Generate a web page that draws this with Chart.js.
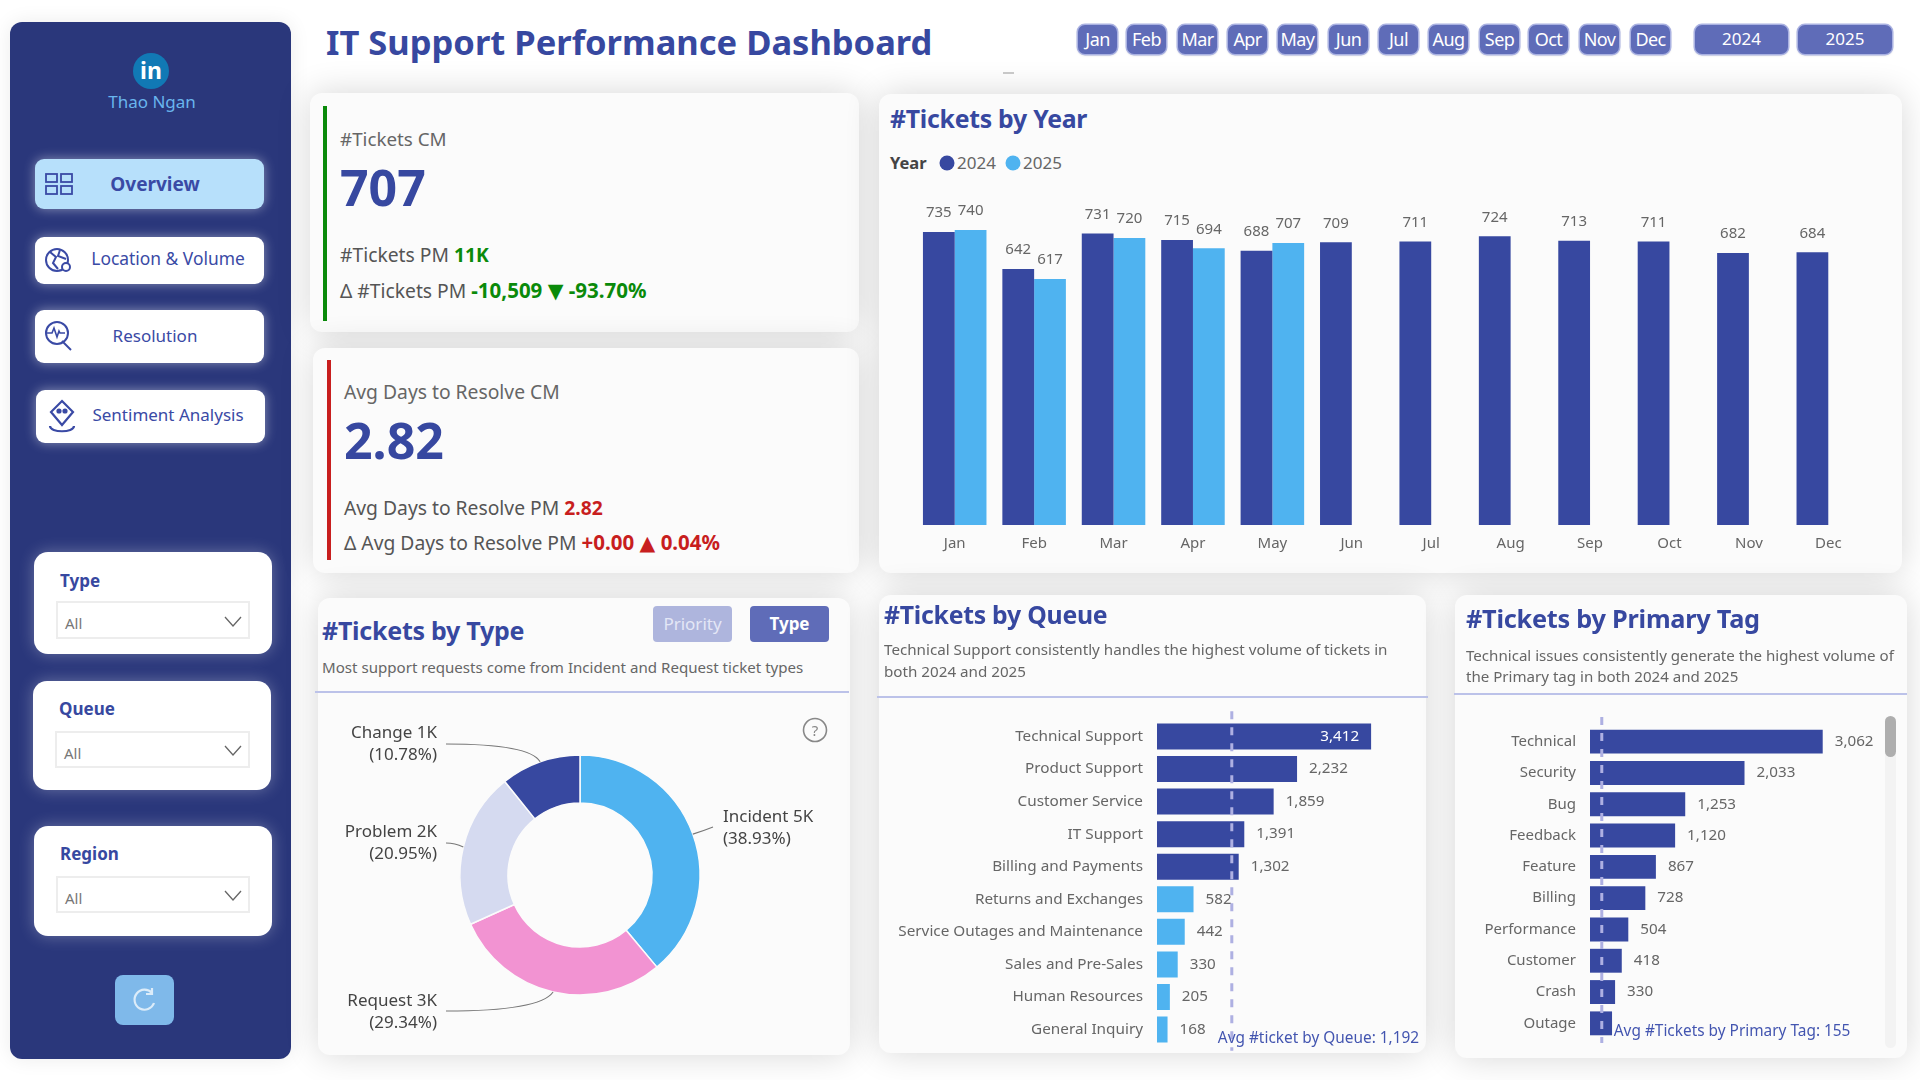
<!DOCTYPE html>
<html>
<head>
<meta charset="utf-8">
<title>IT Support Performance Dashboard</title>
<script src="https://cdn.jsdelivr.net/npm/chart.js@4/dist/chart.umd.min.js"></script>
<style>
html,body{margin:0;padding:0;background:#fff;}
body{position:relative;width:1920px;height:1080px;overflow:hidden;font-family:"Noto Sans",sans-serif;color:#555;}
.box,.t,canvas,svg{position:absolute;}
.t{transform:translateY(calc(-50% - 1.5px));white-space:nowrap;}
.c{transform:translate(-50%,calc(-50% - 1.5px));}
.card{background:#fbfbfb;border-radius:12px;box-shadow:0 0 34px rgba(0,0,0,.16);}
.side{background:#2a377b;border-radius:12px;box-shadow:0 0 20px rgba(0,0,0,.08);}
.nav{background:#fff;border-radius:9px;box-shadow:0 0 12px rgba(255,255,255,.45);}
.navt{color:#3a4aa5;font-size:17px;}
.filter{background:#fff;border-radius:14px;box-shadow:0 0 16px rgba(255,255,255,.3);}
.flabel{color:#3748a0;font-weight:700;font-size:17px;}
.select{background:#fff;border:2px solid #ededed;box-sizing:border-box;}
.all{color:#777;font-size:15px;}
.h{color:#3748a0;font-weight:700;font-size:24.8px;letter-spacing:-.25px;}
.sub{color:#666;font-size:15.1px;}
.line{background:#bcc2e9;height:2px;}
.kpi{font-size:19.3px;color:#555;}
.kpi b.wide{font-size:20.5px;}
.kpih{font-size:18.8px;color:#666;}
.big{color:#3748a0;font-weight:700;font-size:50px;}
.tri{font-family:"DejaVu Sans";font-weight:400;}
.pill{background:#5f6cb8;border-radius:7px;color:#fff;font-size:17px;text-align:center;box-shadow:0 0 0 1.5px #aab2e2,0 1px 3px rgba(0,0,0,.2);box-sizing:border-box;height:29px;line-height:28px;top:25px;overflow:hidden;}
</style>
</head>
<body>

<div class="box side" style="left:10px;top:22px;width:281px;height:1037px"></div>
<svg style="left:133px;top:53px" width="36" height="36"><circle cx="18" cy="18" r="18" fill="#1179b5"/><text x="18" y="26" text-anchor="middle" font-family="Noto Sans" font-weight="700" font-size="23" fill="#fff">in</text></svg>
<div class="t c" style="left:152px;top:103px;color:#69b5ee;font-size:17px">Thao Ngan</div>

<div class="box nav" style="left:35px;top:159px;width:229px;height:50px;background:#b7e0fb"></div>
<svg style="left:45px;top:172px" width="30" height="24" fill="none" stroke="#3a4aa5" stroke-width="1.8"><rect x="1" y="2" width="11" height="8"/><rect x="16" y="2" width="11" height="8"/><rect x="1" y="14" width="11" height="8"/><rect x="16" y="14" width="11" height="8"/></svg>
<div class="t c navt" style="left:155px;top:185px;font-weight:700;font-size:19px">Overview</div>

<div class="box nav" style="left:35px;top:237px;width:229px;height:47px"></div>
<svg style="left:44px;top:246px" width="30" height="30" fill="none" stroke="#3a4aa5" stroke-width="2"><circle cx="13" cy="14" r="11"/><path d="M6 6l6 5-3 6 5 6M16 4l-2 6 8 3" /><circle cx="22" cy="21" r="4" fill="#fff"/></svg>
<div class="t c navt" style="left:168px;top:259px;font-size:17.4px">Location &amp; Volume</div>

<div class="box nav" style="left:35px;top:310px;width:229px;height:53px"></div>
<svg style="left:44px;top:320px" width="32" height="32" fill="none" stroke="#3a4aa5" stroke-width="2"><circle cx="13" cy="13" r="11"/><path d="M18 21l9 9"/><path d="M3 13h5l2-5 3 9 2-6 1 2h5" stroke-width="1.6"/></svg>
<div class="t c navt" style="left:155px;top:337px">Resolution</div>

<div class="box nav" style="left:36px;top:390px;width:229px;height:53px"></div>
<svg style="left:47px;top:399px" width="30" height="36" fill="none" stroke="#3a4aa5" stroke-width="2.2"><path d="M15 2l11 11-11 13L4 13z"/><circle cx="12" cy="12" r="1.5" fill="#3a4aa5"/><circle cx="18" cy="12" r="1.5" fill="#3a4aa5"/><path d="M3 27c0 7 24 7 24 0"/></svg>
<div class="t c navt" style="left:168px;top:416px">Sentiment Analysis</div>

<div class="box filter" style="left:34px;top:552px;width:238px;height:102px"></div>
<div class="t flabel" style="left:60px;top:582px">Type</div>
<div class="box select" style="left:56px;top:601px;width:194px;height:38px"></div>
<div class="t all" style="left:65px;top:624px">All</div>
<svg style="left:224px;top:616px" width="18" height="12" fill="none" stroke="#666" stroke-width="1.3"><path d="M1 1l8 9 8-9"/></svg>

<div class="box filter" style="left:33px;top:681px;width:238px;height:109px"></div>
<div class="t flabel" style="left:59px;top:710px">Queue</div>
<div class="box select" style="left:55px;top:731px;width:195px;height:37px"></div>
<div class="t all" style="left:64px;top:754px">All</div>
<svg style="left:224px;top:745px" width="18" height="12" fill="none" stroke="#666" stroke-width="1.3"><path d="M1 1l8 9 8-9"/></svg>

<div class="box filter" style="left:34px;top:826px;width:238px;height:110px"></div>
<div class="t flabel" style="left:60px;top:855px">Region</div>
<div class="box select" style="left:56px;top:876px;width:194px;height:37px"></div>
<div class="t all" style="left:65px;top:899px">All</div>
<svg style="left:224px;top:890px" width="18" height="12" fill="none" stroke="#666" stroke-width="1.3"><path d="M1 1l8 9 8-9"/></svg>

<div class="box" style="left:115px;top:975px;width:59px;height:50px;background:#7fb9ea;border-radius:8px"></div>
<svg style="left:132px;top:987px" width="26" height="26" fill="none" stroke="#dcecf9" stroke-width="2.2"><path d="M20 6a10 10 0 1 0 2 10"/><path d="M20 1v6h-6"/></svg>

<div class="t" style="left:326px;top:43px;color:#3748a0;font-weight:700;font-size:34.5px" id="title">IT Support Performance Dashboard</div>
<div id="months"></div>
<div class="box pill" style="left:1695px;width:93px">2024</div>
<div class="box pill" style="left:1798px;width:94px">2025</div>
<div class="box" style="left:1003px;top:72px;width:11px;height:2px;background:#ccc"></div>

<div class="box card" style="left:310px;top:93px;width:549px;height:239px"></div>
<div class="box" style="left:323px;top:106px;width:4px;height:215px;background:#0a8a0a"></div>
<div class="t kpih" style="left:340px;top:140px">#Tickets CM</div>
<div class="t big" style="left:340px;top:188px">707</div>
<div class="t kpi" style="left:340px;top:256px">#Tickets PM <b style="color:#0a8a0a">11K</b></div>
<div class="t kpi" style="left:340px;top:291px">Δ #Tickets PM <b class="wide" style="color:#0a8a0a">-10,509 <span class="tri">▼</span> -93.70%</b></div>

<div class="box card" style="left:313px;top:348px;width:546px;height:225px"></div>
<div class="box" style="left:327px;top:360px;width:4px;height:200px;background:#c81e1e"></div>
<div class="t kpih" style="left:344px;top:393px;font-size:19.3px">Avg Days to Resolve CM</div>
<div class="t big" style="left:344px;top:441px">2.82</div>
<div class="t kpi" style="left:344px;top:509px">Avg Days to Resolve PM <b style="color:#c81e1e">2.82</b></div>
<div class="t kpi" style="left:344px;top:543px">Δ Avg Days to Resolve PM <b class="wide" style="color:#c81e1e">+0.00 <span class="tri">▲</span> 0.04%</b></div>

<div class="box card" style="left:879px;top:94px;width:1023px;height:479px"></div>
<div class="t h" style="left:890px;top:119px">#Tickets by Year</div>
<div class="t" style="left:890px;top:164px;font-weight:700;font-size:16.5px;color:#444">Year</div>
<svg style="left:939px;top:155px" width="16" height="16"><circle cx="8" cy="8" r="7.5" fill="#3748a0"/></svg>
<div class="t" style="left:957px;top:164px;font-size:17px;color:#666">2024</div>
<svg style="left:1005px;top:155px" width="16" height="16"><circle cx="8" cy="8" r="7.5" fill="#4fb3f0"/></svg>
<div class="t" style="left:1023px;top:164px;font-size:17px;color:#666">2025</div>
<canvas id="yearChart" width="953" height="375" style="left:915px;top:190px"></canvas>

<div class="box card" style="left:318px;top:598px;width:532px;height:457px"></div>
<div class="t h" style="left:322px;top:631px;font-size:25px">#Tickets by Type</div>
<div class="box" style="left:653px;top:606px;width:79px;height:36px;background:#aeb5dd;border-radius:4px;color:#e4e7f6;font-size:17px;text-align:center;line-height:35px">Priority</div>
<div class="box" style="left:750px;top:606px;width:79px;height:36px;background:#5f6cb8;border-radius:4px;color:#fff;font-size:17px;font-weight:700;text-align:center;line-height:35px">Type</div>
<div class="t sub" style="left:322px;top:668px">Most support requests come from Incident and Request ticket types</div>
<div class="box line" style="left:315px;top:691px;width:534px"></div>
<canvas id="typeChart" width="500" height="350" style="left:330px;top:700px"></canvas>
<svg style="left:802px;top:717px" width="26" height="26" fill="none" stroke="#888" stroke-width="1.6"><circle cx="13" cy="13" r="11.5"/><text x="13" y="18.5" text-anchor="middle" font-family="Noto Sans" font-size="15" fill="#888" stroke="none">?</text></svg>

<div class="box card" style="left:879px;top:595px;width:547px;height:458px"></div>
<div class="t h" style="left:884px;top:615px">#Tickets by Queue</div>
<div class="t sub" style="left:884px;top:650px;font-size:15.2px">Technical Support consistently handles the highest volume of tickets in</div>
<div class="t sub" style="left:884px;top:672px;font-size:15.2px">both 2024 and 2025</div>
<div class="box line" style="left:877px;top:696px;width:551px"></div>
<canvas id="queueChart" width="544" height="372" style="left:880px;top:697px"></canvas>

<div class="box card" style="left:1455px;top:595px;width:452px;height:463px"></div>
<div class="t h" style="left:1466px;top:619px;font-size:25.3px">#Tickets by Primary Tag</div>
<div class="t sub" style="left:1466px;top:656px">Technical issues consistently generate the highest volume of</div>
<div class="t sub" style="left:1466px;top:677px">the Primary tag in both 2024 and 2025</div>
<div class="box line" style="left:1454px;top:693px;width:453px"></div>
<canvas id="tagChart" width="410" height="359" style="left:1470px;top:703px"></canvas>
<div class="box" style="left:1885px;top:716px;width:11px;height:332px;background:#f3f3f3;border-radius:6px"></div>
<div class="box" style="left:1885px;top:716px;width:11px;height:41px;background:#aeaeae;border-radius:6px"></div>

<script>
const months = ['Jan','Feb','Mar','Apr','May','Jun','Jul','Aug','Sep','Oct','Nov','Dec'];
const tickets2024 = [735,642,731,715,688,709,711,724,713,711,682,684];
const tickets2025 = [740,617,720,694,707,null,null,null,null,null,null,null];

const typeNames = ['Incident','Request','Problem','Change'];
const typeShort = ['5K','3K','2K','1K'];
const typeShare = [38.93,29.34,20.95,10.78];

const queueNames = ['Technical Support','Product Support','Customer Service','IT Support','Billing and Payments','Returns and Exchanges','Service Outages and Maintenance','Sales and Pre-Sales','Human Resources','General Inquiry'];
const queueTickets = [3412,2232,1859,1391,1302,582,442,330,205,168];
const queueAvg = 1192;

const tagNames = ['Technical','Security','Bug','Feedback','Feature','Billing','Performance','Customer','Crash','Outage'];
const tagTickets = [3062,2033,1253,1120,867,728,504,418,330,290];
const tagAvg = 155;

const monthPillLeft = [1078,1127,1178,1228,1278,1329,1379,1429,1480,1529,1580,1631];

const NAVY = '#3748a0';
const SKY = '#4fb3f0';
const FONT = '"Noto Sans", sans-serif';

Chart.defaults.font.family = FONT;
Chart.defaults.animation = false;
Chart.defaults.responsive = false;
Chart.defaults.plugins.legend.display = false;
Chart.defaults.plugins.tooltip.enabled = false;

// month slicer row
document.getElementById('months').innerHTML = months.map((m,i) =>
    `<div class="box pill" style="left:${monthPillLeft[i]}px;width:39px;font-size:18px;letter-spacing:-.6px">${m}</div>`
).join('');

// value labels over the vertical bars
const yearLabels = {
    id: 'yearLabels',
    afterDatasetsDraw(chart) {
        const ctx = chart.ctx;
        ctx.save();
        ctx.font = '15px ' + FONT;
        ctx.fillStyle = '#666';
        ctx.textAlign = 'center';
        ctx.textBaseline = 'middle';
        chart.data.datasets.forEach((ds,d) => {
            chart.getDatasetMeta(d).data.forEach((bar,i) => {
                if (ds.data[i] == null) return;
                ctx.fillText(ds.data[i], bar.x, bar.y - 19);
            });
        });
        ctx.restore();
    }
};

// value labels and dashed average for the horizontal bars
function rankPlugin(avg, avgText, lineTop, lineBottom, avgTextOffset, insideFrom, labelFrom) {
    return {
        id: 'rank',
        afterDatasetsDraw(chart) {
            const ctx = chart.ctx;
            const meta = chart.getDatasetMeta(0);
            const values = chart.data.datasets[0].data;
            ctx.save();
            ctx.font = '15.2px ' + FONT;
            ctx.textBaseline = 'middle';
            meta.data.forEach((bar,i) => {
                const text = values[i].toLocaleString('en-US');
                if (values[i] < labelFrom) return;
                if (values[i] >= insideFrom) {
                    ctx.fillStyle = '#fff';
                    ctx.textAlign = 'right';
                    ctx.fillText(text, bar.x - 12, bar.y);
                } else {
                    ctx.fillStyle = '#666';
                    ctx.textAlign = 'left';
                    ctx.fillText(text, bar.x + 12, bar.y);
                }
            });
            const x = chart.scales.x.getPixelForValue(avg);
            ctx.strokeStyle = '#aeb0e2';
            ctx.lineWidth = 3;
            ctx.setLineDash([8,8]);
            ctx.beginPath();
            ctx.moveTo(x, chart.chartArea.top - lineTop);
            ctx.lineTo(x, chart.chartArea.bottom + lineBottom);
            ctx.stroke();
            ctx.font = '15.4px ' + FONT;
            ctx.fillStyle = '#4355b0';
            ctx.textAlign = 'left';
            ctx.fillText(avgText, x + avgTextOffset, chart.chartArea.bottom - 7);
            ctx.restore();
        }
    };
}

// callouts around the donut, offsets are from the donut centre
const donutCallouts = {
    id: 'donutCallouts',
    afterDatasetsDraw(chart) {
        const ctx = chart.ctx;
        const spots = [
            {side:'left', textX:143, textY:-58, lineX:133, lineY:-48, bendX:123, bendY:-44},
            {side:'right', textX:143, textY:126, lineX:134, lineY:136, bendX:-40, bendY:136},
            {side:'right', textX:143, textY:-43, lineX:134, lineY:-32, bendX:-125, bendY:-32},
            {side:'right', textX:143, textY:-142, lineX:134, lineY:-131, bendX:-50, bendY:-131}
        ];
        ctx.save();
        chart.getDatasetMeta(0).data.forEach((arc,i) => {
            const s = spots[i];
            const mid = (arc.startAngle + arc.endAngle) / 2;
            const ex = arc.x + Math.cos(mid) * arc.outerRadius;
            const ey = arc.y + Math.sin(mid) * arc.outerRadius;
            const dir = s.side === 'left' ? 1 : -1;
            ctx.strokeStyle = '#777';
            ctx.lineWidth = 1.1;
            ctx.beginPath();
            ctx.moveTo(arc.x + dir * s.lineX, arc.y + s.lineY);
            ctx.quadraticCurveTo(arc.x + s.bendX, arc.y + s.bendY, ex, ey);
            ctx.stroke();
            ctx.font = '17px ' + FONT;
            ctx.fillStyle = '#444';
            ctx.textBaseline = 'middle';
            ctx.textAlign = s.side === 'left' ? 'left' : 'right';
            ctx.fillText(typeNames[i] + ' ' + typeShort[i], arc.x + dir * s.textX, arc.y + s.textY);
            ctx.fillText('(' + typeShare[i].toFixed(2) + '%)', arc.x + dir * s.textX, arc.y + s.textY + 22);
        });
        ctx.restore();
    }
};

new Chart(document.getElementById('yearChart'), {
    type: 'bar',
    data: {
        labels: months,
        datasets: [
            { label: '2024', data: tickets2024, backgroundColor: NAVY },
            { label: '2025', data: tickets2025, backgroundColor: SKY }
        ]
    },
    options: {
        layout: { padding: { top: 10 } },
        datasets: { bar: { categoryPercentage: 0.8, barPercentage: 1 } },
        scales: {
            x: {
                afterFit: s => { s.height = 40; },
                grid: { display: false, drawTicks: false },
                border: { display: false },
                ticks: { color: '#666', font: { size: 15 }, padding: 10 }
            },
            y: { display: false, min: 0, max: 815 }
        }
    },
    plugins: [yearLabels]
});

new Chart(document.getElementById('typeChart'), {
    type: 'doughnut',
    data: {
        labels: typeNames,
        datasets: [{
            data: typeShare,
            backgroundColor: [SKY,'#f293d2','#d5daf0',NAVY],
            borderColor: '#fbfbfb',
            borderWidth: 1.5
        }]
    },
    options: { radius: 120, cutout: '60%' },
    plugins: [donutCallouts]
});

new Chart(document.getElementById('queueChart'), {
    type: 'bar',
    data: {
        labels: queueNames,
        datasets: [{
            data: queueTickets,
            backgroundColor: queueTickets.map(v => v >= queueAvg ? NAVY : SKY)
        }]
    },
    options: {
        indexAxis: 'y',
        layout: { padding: { top: 16, bottom: 11, right: 16 } },
        datasets: { bar: { categoryPercentage: 1, barPercentage: 0.8 } },
        scales: {
            x: { display: false, min: 0, max: 4000 },
            y: {
                afterFit: s => { s.width = 277; },
                grid: { display: false, drawTicks: false },
                border: { display: false },
                ticks: { color: '#666', font: { size: 15.3 }, padding: 14, autoSkip: false }
            }
        }
    },
    plugins: [rankPlugin(queueAvg, 'Avg #ticket by Queue: 1,192', 9, 5, -14, 3000, 0)]
});

new Chart(document.getElementById('tagChart'), {
    type: 'bar',
    data: {
        labels: tagNames,
        datasets: [{ data: tagTickets, backgroundColor: NAVY }]
    },
    options: {
        indexAxis: 'y',
        layout: { padding: { top: 17, bottom: 14, right: 24 } },
        datasets: { bar: { categoryPercentage: 1, barPercentage: 0.763 } },
        scales: {
            x: { display: false, min: 0, max: 3500 },
            y: {
                afterFit: s => { s.width = 120; },
                grid: { display: false, drawTicks: false },
                border: { display: false },
                ticks: { color: '#666', font: { size: 15 }, padding: 14, autoSkip: false }
            }
        }
    },
    plugins: [rankPlugin(tagAvg, 'Avg #Tickets by Primary Tag: 155', 9, 4, 12, 99999, 300)]
});
</script>
</body>
</html>
